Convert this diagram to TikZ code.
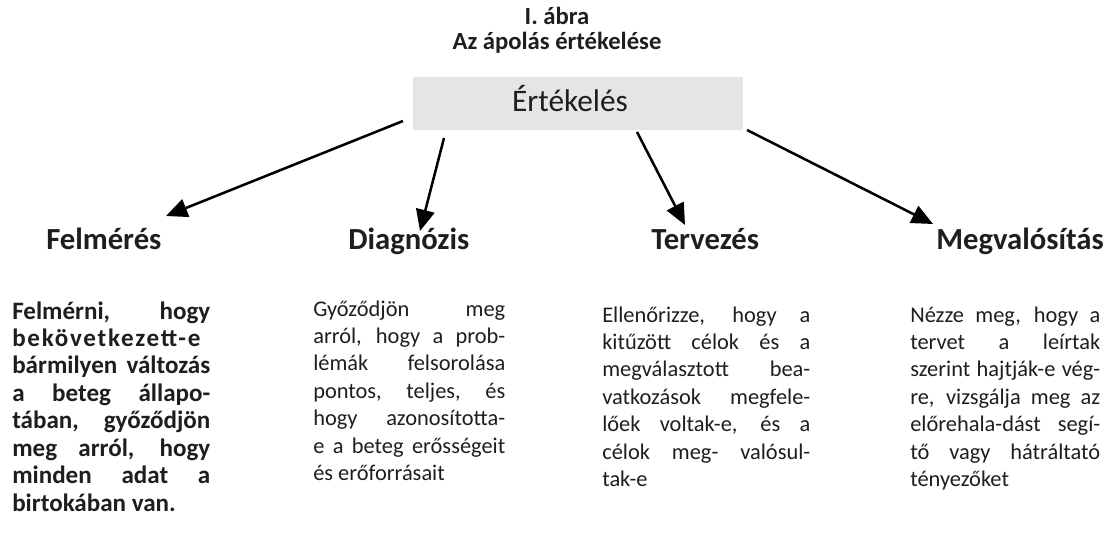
\documentclass[tikz,border=0pt]{standalone}
\usepackage{fontspec}
\setmainfont{Carlito}
\usetikzlibrary{arrows.meta}
\definecolor{ink}{HTML}{1E1E1E}
\definecolor{boxgray}{HTML}{E5E5E5}
\newcommand{\jla}[1]{\hbox to 148.5pt{#1}}
\newcommand{\jlb}[1]{\hbox to 144pt{#1}}
\newcommand{\jlc}[1]{\hbox to 156pt{#1}}
\newcommand{\jld}[1]{\hbox to 142.5pt{#1}}
\newcommand{\lastln}[1]{\hbox{#1}}
\newcommand{\stretchsp}{\spaceskip=0.226em plus 1fil minus 0.05em\relax}
\begin{document}
\begin{tikzpicture}[x=0.75pt,y=-0.75pt,
  ttl/.style={font=\bfseries\fontsize{18.5}{22}\selectfont, text=ink, inner sep=0pt, anchor=base},
  head/.style={font=\bfseries\fontsize{23}{27}\selectfont, text=ink, inner sep=0pt, anchor=base west},
  body/.style={font=\fontsize{16.8}{20.6}\selectfont, text=ink, inner sep=0pt, anchor=base west},
  arr/.style={draw=black, line width=1.9pt, -{Triangle[length=16pt,width=14pt]}}]
\useasboundingbox (0,0) rectangle (1120,545);

\node[ttl] (t1) at (557,25) {I. ábra};
\node[ttl] (t2) at (557,50) {Az ápolás értékelése};

\node[fill=boxgray, minimum width=330*0.75pt, minimum height=53*0.75pt, inner sep=0pt] (ert) at (578,104) {};
\node[font=\fontsize{23.5}{27}\selectfont, text=ink, inner sep=0pt, anchor=base] (ertl) at (570,112) {Értékelés};

\node[head] (h1) at (46,250) {Felmérés};
\node[head] (h2) at (348,250) {Diagnózis};
\node[head] (h3) at (651,250) {Tervezés};
\node[head] (h4) at (936,250) {Megvalósítás};

\coordinate (s1) at (403,121); \coordinate (e1) at (166,216);
\coordinate (s2) at (444,138); \coordinate (e2) at (420,231);
\coordinate (s3) at (637,132); \coordinate (e3) at (685,225);
\coordinate (s4) at (747,130); \coordinate (e4) at (933,224);
\draw[arr] (s1) -- (e1);
\draw[arr] (s2) -- (e2);
\draw[arr] (s3) -- (e3);
\draw[arr] (s4) -- (e4);

\node[body, font=\bfseries\fontsize{18.8}{20.6}\selectfont, text width=198*0.75pt] (c1) at (12,319) {%
\stretchsp
\jla{Felmérni, hogy}
\jla{\addfontfeature{LetterSpace=7}bekövetkezett-e}
\jla{bármilyen változás}
\jla{a beteg állapo-}
\jla{tában, győződjön}
\jla{meg arról, hogy}
\jla{minden adat a}
\lastln{birtokában van.}};

\node[body, text width=192*0.75pt] (c2) at (313,316) {%
\stretchsp
\jlb{Győződjön meg}
\jlb{arról, hogy a prob-}
\jlb{lémák felsorolása}
\jlb{pontos, teljes, és}
\jlb{hogy azonosította-}
\jlb{e a beteg erősségeit}
\lastln{és erőforrásait}};

\node[body, text width=208*0.75pt] (c3) at (602,322) {%
\stretchsp
\jlc{Ellenőrizze, hogy a}
\jlc{kitűzött célok és a}
\jlc{megválasztott bea-}
\jlc{vatkozások megfele-}
\jlc{lőek voltak-e, és a}
\jlc{célok meg- valósul-}
\lastln{tak-e}};

\node[body, text width=190*0.75pt] (c4) at (910,322) {%
\stretchsp
\jld{Nézze meg, hogy a}
\jld{tervet a leírtak}
\jld{szerint hajtják-e vég-}
\jld{re, vizsgálja meg az}
\jld{előrehala-dást segí-}
\jld{tő vagy hátráltató}
\lastln{tényezőket}};
\end{tikzpicture}
\end{document}
